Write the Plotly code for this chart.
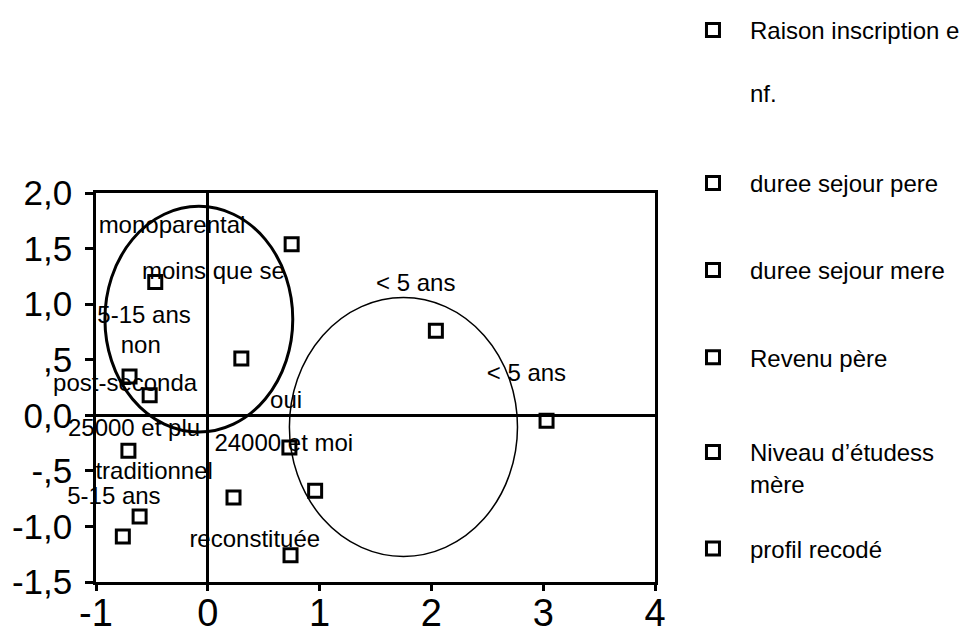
import plotly.graph_objects as go

# ---- data ----
variables = ["Raison inscription e<br>\u00a0<br>nf.", "duree sejour pere", "duree sejour mere",
             "Revenu père", "Niveau d\u2019étudess<br>mère", "profil recodé"]
var_x = [[0.73, -0.70], [2.04, -0.61], [3.03, -0.76], [-0.52, 0.96],
         [0.75, -0.47, 0.30], [-0.71, 0.23, 0.74]]
var_y = [[-0.29, 0.35], [0.76, -0.91], [-0.05, -1.09], [0.18, -0.68],
         [1.54, 1.20, 0.51], [-0.32, -0.74, -1.26]]
legend_of_var = ["legend", "legend2", "legend2", "legend2", "legend3", "legend3"]

label_text = ["secondaire", "monoparental", "moins que se", "5-15 ans", "non",
              "post-seconda", "oui", "25000 et plu", "24000 et moi", "traditionnel",
              "5-15 ans", "reconstituée", "< 5 ans", "< 5 ans"]
label_x = [0.60, -0.32, 0.05, -0.57, -0.60, -0.74, 0.70, -0.66, 0.68, -0.48,
           -0.84, 0.42, 1.86, 2.85]
label_y = [2.32, 1.69, 1.28, 0.88, 0.61, 0.27, 0.12, -0.13, -0.27, -0.52,
           -0.74, -1.13, 1.17, 0.36]

x_ticks = [-1, 0, 1, 2, 3, 4]
x_ticktext = ["-1", "0", "1", "2", "3", "4"]
y_ticks = [2.0, 1.5, 1.0, 0.5, 0.0, -0.5, -1.0, -1.5]
y_ticktext = ["2,0", "1,5", "1,0", ",5", "0,0", "-,5", "-1,0", "-1,5"]

# ellipses: (x0, y0, x1, y1)
ellipse_bounds = [(-0.92, -0.15, 0.76, 1.88), (0.73, -1.27, 2.77, 1.06)]
ellipse_widths = [3, 1.5]

FONT = "Liberation Sans, Arial, sans-serif"

fig = go.Figure()
for i, (name, xs, ys) in enumerate(zip(variables, var_x, var_y)):
    fig.add_trace(go.Scatter(
        x=xs, y=ys, mode="markers", name=name,
        legend=legend_of_var[i], legendgroup=f"g{i}",
        marker=dict(symbol="square-open", size=13, color="black",
                    line=dict(width=3, color="black")),
        cliponaxis=False,
    ))

fig.add_trace(go.Scatter(
    x=label_x, y=label_y, mode="text", text=label_text,
    textposition="middle center", textfont=dict(size=24, color="black", family=FONT),
    showlegend=False, cliponaxis=False,
))

for (x0, y0, x1, y1), w in zip(ellipse_bounds, ellipse_widths):
    fig.add_shape(type="circle", xref="x", yref="y", x0=x0, y0=y0, x1=x1, y1=y1,
                  line=dict(color="black", width=w))

legend_common = dict(xref="container", yref="container", x=0.6922, xanchor="left",
                     font=dict(size=24, family=FONT), itemwidth=64, valign="top",
                     traceorder="grouped", bgcolor="rgba(0,0,0,0)")

# the page body adds an 8px margin, so the figure is 8px smaller than the window
fig.update_layout(
    width=965, height=628,
    margin=dict(l=88, r=318, t=185, b=54, autoexpand=False),
    paper_bgcolor="white", plot_bgcolor="white",
    font=dict(family=FONT, color="black"),
    legend=dict(**legend_common, y=1.0, yanchor="top", tracegroupgap=10),
    legend2=dict(**legend_common, y=0.7567, yanchor="top", tracegroupgap=53),
    legend3=dict(**legend_common, y=0.1035, yanchor="bottom", tracegroupgap=31),
    xaxis=dict(range=[-1, 4], tickvals=x_ticks, ticktext=x_ticktext,
               showgrid=False, zeroline=True, zerolinecolor="black", zerolinewidth=3,
               showline=True, linecolor="black", linewidth=2.5, mirror=True,
               ticks="outside", ticklen=6, tickwidth=3, tickcolor="black",
               ticklabelstandoff=-10,
               tickfont=dict(size=38, family=FONT)),
    yaxis=dict(range=[-1.5, 2.0], tickvals=y_ticks, ticktext=y_ticktext,
               showgrid=False, zeroline=True, zerolinecolor="black", zerolinewidth=3,
               showline=True, linecolor="black", linewidth=2.5, mirror=True,
               ticks="outside", ticklen=8, tickwidth=2.5, tickcolor="black",
               ticklabelstandoff=6,
               tickfont=dict(size=35, family=FONT)),
)

fig.write_html("out.html")
